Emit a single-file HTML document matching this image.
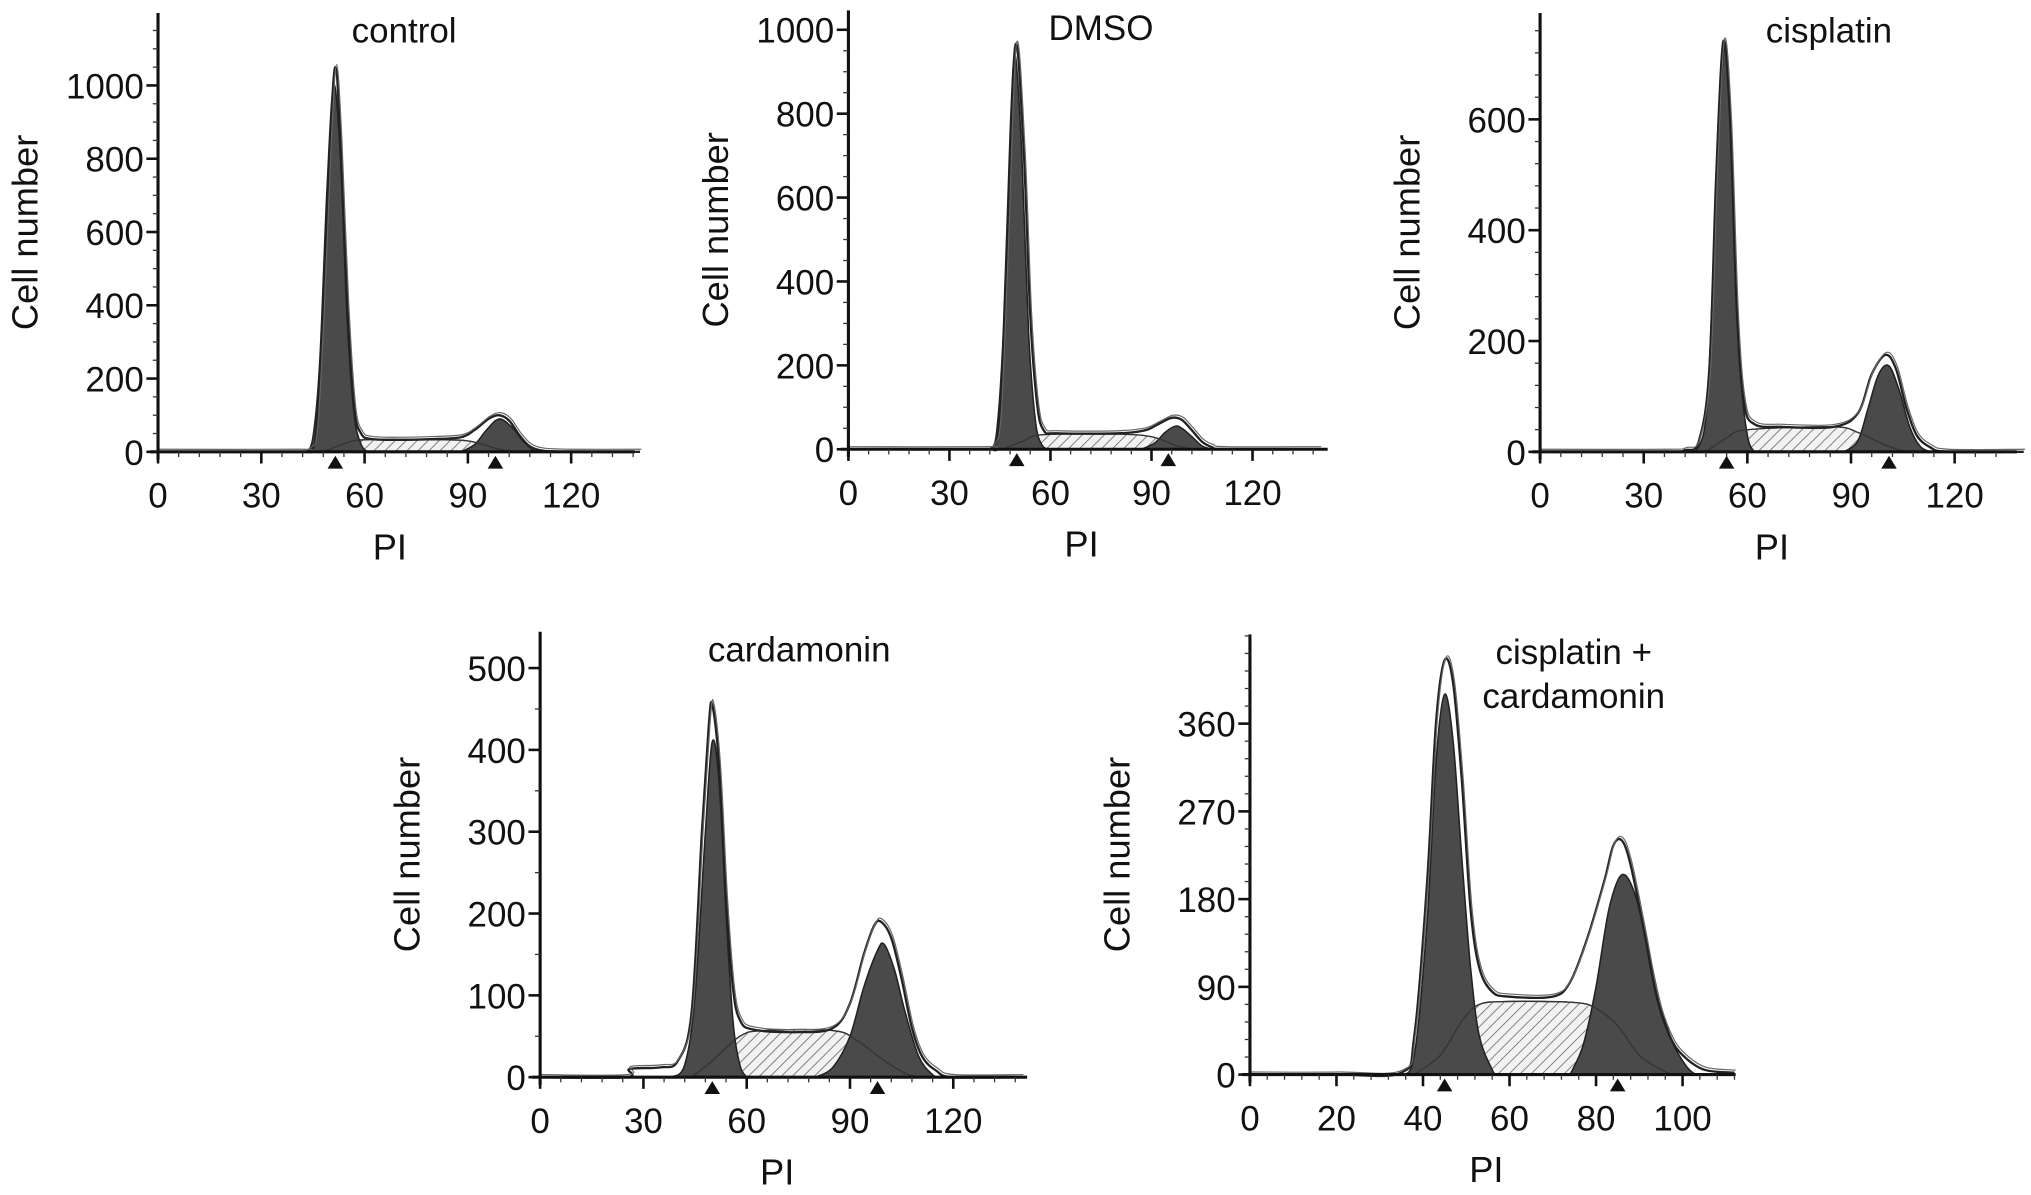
<!DOCTYPE html>
<html><head><meta charset="utf-8">
<style>
html,body{margin:0;padding:0;background:#fff;}
svg{display:block;}
text{font-family:"Liberation Sans",Arial,sans-serif;fill:#111;}
</style></head>
<body>
<svg id="fig" width="2031" height="1195" viewBox="0 0 1568 923" preserveAspectRatio="none" xmlns="http://www.w3.org/2000/svg">
<defs>
<pattern id="hatch" patternUnits="userSpaceOnUse" width="6" height="6" patternTransform="rotate(45)">
<rect width="6" height="6" fill="#f2f2f2"/><line x1="0" y1="0" x2="0" y2="6" stroke="#777" stroke-width="1.4"/>
</pattern>
</defs>
</svg>
<script>
// ---- data arrays (PI value, cell count) ----
const controlTotal=[[0,0],[40,0],[44,5],[46,60],[48,400],[50,850],[51.5,1050],[53,850],[55,400],[57,120],[59,50],[62,35],[70,33],[80,35],[88,40],[92,60],[96,90],[99,100],[102,85],[105,45],[108,15],[112,3],[120,0],[140,0]];
const controlG1=[[43,0],[45,40],[47,250],[49,700],[51,1000],[53,800],[55,350],[57,100],[59,20],[61,0]];
const controlG2=[[88,0],[92,20],[95,55],[98,85],[100,88],[103,65],[106,30],[109,5],[111,0]];
const controlS=[[48,0],[55,25],[60,33],[80,33],[90,30],[98,10],[103,0]];
const controlMarks=[51.5,98];

const dmsoTotal=[[0,0],[40,0],[43,5],[45,80],[47,450],[49.5,960],[52,720],[54,320],[56,110],[58,45],[62,38],[80,38],[88,45],[92,60],[96,75],[99,70],[102,45],[105,18],[108,5],[112,0],[140,0]];
const dmsoG1=[[42,0],[44,40],[46,280],[48,750],[49.5,940],[51.5,700],[53.5,280],[55.5,70],[57.5,10],[60,0]];
const dmsoG2=[[87,0],[91,15],[94,40],[97,55],[99,50],[102,30],[105,8],[108,0]];
const dmsoS=[[46,0],[52,20],[58,35],[80,36],[90,30],[97,10],[102,0]];
const dmsoMarks=[50,95];

const cisTotal=[[0,0],[36,0],[42,3],[46,20],[49,150],[51,500],[53,740],[55,600],[57,250],[59,90],[62,50],[70,45],[85,45],[92,70],[96,140],[100,175],[103,150],[106,80],[109,30],[113,8],[118,0],[140,0]];
const cisG1=[[45,0],[48,60],[50,300],[52,620],[54,730],[56,450],[58,150],[60,30],[62,0]];
const cisG2=[[88,0],[92,20],[95,80],[98,140],[101,155],[104,110],[107,45],[110,10],[113,0]];
const cisS=[[48,0],[54,25],[60,40],[85,45],[92,35],[100,12],[106,0]];
const cisMarks=[54,101];

const carTotal=[[0,0],[25,0],[26,10],[35,12],[40,20],[44,80],[47,300],[49,430],[50,455],[52,380],[54,220],[56,110],[58,70],[62,58],[75,55],[85,60],[90,90],[94,150],[97,185],[99,190],[102,170],[105,120],[108,60],[111,25],[115,8],[120,0],[140,0]];
const carG1=[[38,0],[42,15],[45,100],[48,300],[50,410],[52,360],[54,200],[56,70],[58,15],[60,0]];
const carG2=[[80,0],[85,12],[90,50],[94,110],[98,155],[100,162],[103,130],[106,80],[110,25],[114,3],[116,0]];
const carS=[[44,0],[50,20],[58,50],[65,57],[85,57],[92,45],[100,20],[106,5],[110,0]];
const carMarks=[50,98];

const comboTotal=[[0,0],[20,0],[35,2],[38,40],[41,200],[43,360],[45,425],[47,400],[49,300],[51,170],[53,110],[56,85],[60,80],[70,80],[74,95],[78,140],[82,200],[84,235],[86,240],[88,215],[91,150],[94,80],[97,40],[100,20],[105,5],[112,2]];
const comboG1=[[35,0],[38,20],[41,160],[43,320],[45,390],[47,340],[49,220],[51,110],[53,40],[56,5],[57,0]];
const comboG2=[[74,0],[77,30],[80,90],[83,170],[86,205],[89,185],[92,130],[95,70],[98,30],[101,8],[103,0]];
const comboS=[[38,0],[44,20],[49,55],[53,72],[60,75],[75,74],[80,68],[85,50],[90,20],[95,5],[98,0]];
const comboMarks=[45,85];

const xTicks120=[0,30,60,90,120];
const xTicks100=[0,20,40,60,80,100];
const yTicksA=[0,200,400,600,800,1000];
const yTicksC=[0,200,400,600];
const yTicksD=[0,100,200,300,400,500];
const yTicksE=[0,90,180,270,360];

// ---- layout ----
const panels=[
 {name:'control',title:['control'],tx:312,total:controlTotal,g1:controlG1,g2:controlG2,s:controlS,marks:controlMarks,
  ax:122,ay:349,top:10,right:490,xpx:2.658,ypx:0.283,xt:xTicks120,yt:yTicksA,xminor:6,yminor:50},
 {name:'dmso',title:['DMSO'],tx:850,total:dmsoTotal,g1:dmsoG1,g2:dmsoG2,s:dmsoS,marks:dmsoMarks,
  ax:655,ay:347,top:8,right:1025,xpx:2.6,ypx:0.324,xt:xTicks120,yt:yTicksA,xminor:6,yminor:50},
 {name:'cisplatin',title:['cisplatin'],tx:1412,total:cisTotal,g1:cisG1,g2:cisG2,s:cisS,marks:cisMarks,
  ax:1189,ay:349,top:10,right:1557,xpx:2.667,ypx:0.428,xt:xTicks120,yt:yTicksC,xminor:6,yminor:40},
 {name:'cardamonin',title:['cardamonin'],tx:617,total:carTotal,g1:carG1,g2:carG2,s:carS,marks:carMarks,
  ax:417,ay:832,top:488,right:793,xpx:2.658,ypx:0.632,xt:xTicks120,yt:yTicksD,xminor:6,yminor:50},
 {name:'cisplatin-cardamonin',title:['cisplatin +','cardamonin'],tx:1215,total:comboTotal,g1:comboG1,g2:comboG2,s:comboS,marks:comboMarks,
  ax:965,ay:830,top:490,right:1340,xpx:3.34,ypx:0.753,xt:xTicks100,yt:yTicksE,xminor:4,yminor:18}
];

const NS='http://www.w3.org/2000/svg';
const svg=document.getElementById('fig');
function mk(tag,attrs,parent){const e=document.createElementNS(NS,tag);for(const k in attrs)e.setAttribute(k,attrs[k]);(parent||svg).appendChild(e);return e;}
function smoothPath(pts){
  let d='M'+pts[0][0].toFixed(1)+','+pts[0][1].toFixed(1);
  for(let i=0;i<pts.length-1;i++){
    const p0=pts[Math.max(0,i-1)],p1=pts[i],p2=pts[i+1],p3=pts[Math.min(pts.length-1,i+2)];
    const c1=[p1[0]+(p2[0]-p0[0])/6,p1[1]+(p2[1]-p0[1])/6];
    const c2=[p2[0]-(p3[0]-p1[0])/6,p2[1]-(p3[1]-p1[1])/6];
    d+=' C'+c1[0].toFixed(1)+','+c1[1].toFixed(1)+' '+c2[0].toFixed(1)+','+c2[1].toFixed(1)+' '+p2[0].toFixed(1)+','+p2[1].toFixed(1);
  }
  return d;
}
panels.forEach(p=>{
  const X=v=>p.ax+v*p.xpx, Y=v=>p.ay-v*p.ypx;
  const g=mk('g',{});
  
  
  const toPix=arr=>arr.map(d=>[X(d[0]),Y(d[1])]);
  const sp=mk('path',{d:smoothPath(toPix(p.s))+' Z',fill:'url(#hatch)',stroke:'#444','stroke-width':1},g);
  
  
  [['g1-peak',p.g1],['g2-peak',p.g2]].forEach(([nm,arr])=>{
    const e=mk('path',{d:smoothPath(toPix(arr))+' Z',fill:'#4a4a4a',stroke:'#222','stroke-width':1.2},g);
    
    
  });
  const so=mk('path',{d:smoothPath(toPix(p.s)),fill:'none',stroke:'#333','stroke-width':1},g);
  
  
  const tp=toPix(p.total);
  const t1=mk('path',{d:smoothPath(tp),fill:'none',stroke:'#222','stroke-width':1.8},g);
  
  
  const t2=mk('path',{d:smoothPath(tp.map(q=>[q[0]+1,q[1]-2])),fill:'none',stroke:'#666','stroke-width':0.9},g);
  
  
  const ya=mk('line',{x1:p.ax,y1:p.top,x2:p.ax,y2:p.ay+6,stroke:'#111','stroke-width':2.4},g);
  
  
  const xa=mk('line',{x1:p.ax-6,y1:p.ay,x2:p.right,y2:p.ay,stroke:'#111','stroke-width':2.4},g);
  
  
  for(let v=0;X(v)<=p.right;v+=p.xminor){
    mk('line',{x1:X(v),y1:p.ay,x2:X(v),y2:p.ay+4,stroke:'#333','stroke-width':1},g);
  }
  for(let v=0;Y(v)>=p.top;v+=p.yminor){
    mk('line',{x1:p.ax-4,y1:Y(v),x2:p.ax,y2:Y(v),stroke:'#333','stroke-width':1},g);
  }
  p.xt.forEach(v=>{
    mk('line',{x1:X(v),y1:p.ay,x2:X(v),y2:p.ay+9,stroke:'#111','stroke-width':2},g);
    const t=mk('text',{x:X(v),y:p.ay+43,'text-anchor':'middle','font-size':27},g);t.textContent=v;
    
    
  });
  p.yt.forEach(v=>{
    mk('line',{x1:p.ax-9,y1:Y(v),x2:p.ax,y2:Y(v),stroke:'#111','stroke-width':2},g);
    const t=mk('text',{x:p.ax-11,y:Y(v)+10,'text-anchor':'end','font-size':27},g);t.textContent=v;
    
    
  });
  p.marks.forEach(v=>{
    const m=mk('path',{d:`M${X(v)-6},${p.ay+13} L${X(v)+6},${p.ay+13} L${X(v)},${p.ay+3} Z`,fill:'#111'},g);
    
    
  });
  const cx=(p.ax+p.right)/2-10;
  const xl=mk('text',{x:cx+5,y:p.ay+83,'text-anchor':'middle','font-size':28},g);xl.textContent='PI';
  
  
  const ymid=(p.top+p.ay)/2;
  const yx=p.ax-93;
  const yl=mk('text',{x:yx,y:ymid,'text-anchor':'middle','font-size':28,transform:`rotate(-90 ${yx} ${ymid})`},g);
  yl.textContent='Cell number';
  
  
  p.title.forEach((line,i)=>{
    const t=mk('text',{x:p.tx,y:p.top+23+i*34,'text-anchor':'middle','font-size':27},g);t.textContent=line;
    
    
  });
});
</script>
</body></html>
